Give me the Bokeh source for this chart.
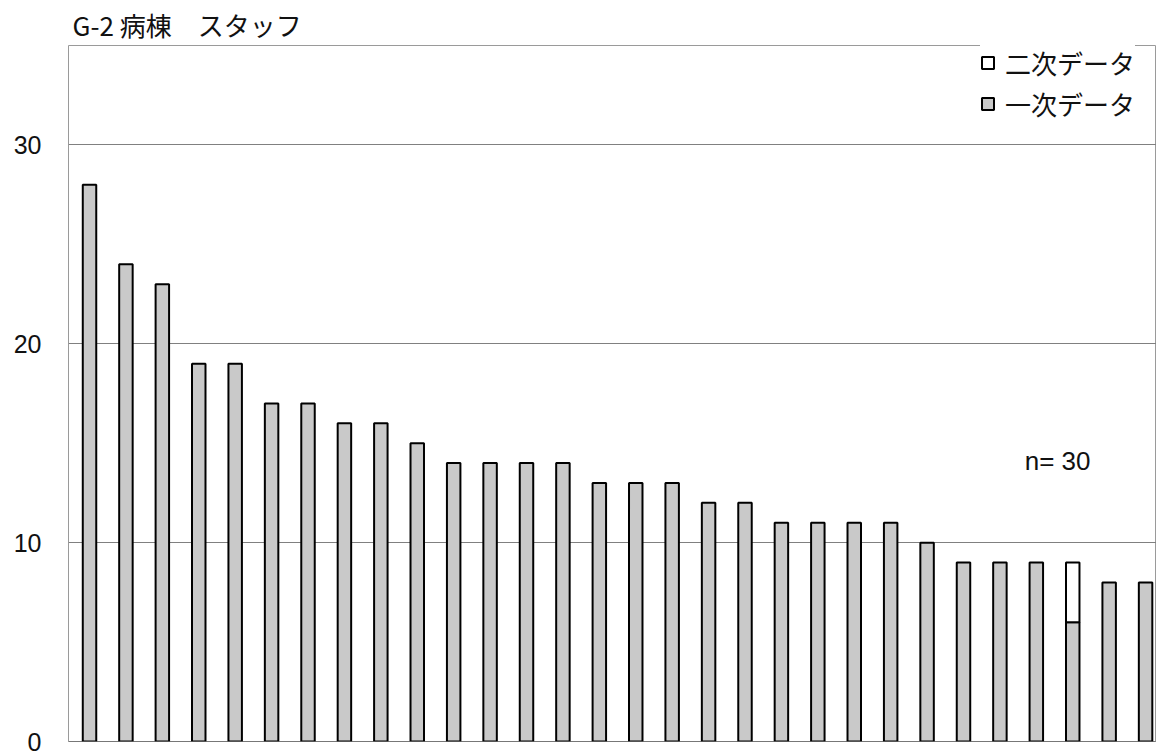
from bokeh.plotting import figure
from bokeh.models import ColumnDataSource, Legend, LegendItem, Label, Span, FixedTicker, Range1d
from bokeh.embed import file_html
from bokeh.resources import INLINE

title_text = "G-2 病棟　スタッフ"
series_names = ["一次データ", "二次データ"]
n_label = "n= 30"
y_ticks = [0, 10, 20, 30]
staff_ids = list(range(1, 31))
primary = [28, 24, 23, 19, 19, 17, 17, 16, 16, 15, 14, 14, 14, 14, 13, 13, 13,
           12, 12, 11, 11, 11, 11, 10, 9, 9, 9, 6, 8, 8]
secondary = [0, 0, 0, 0, 0, 0, 0, 0, 0, 0, 0, 0, 0, 0, 0, 0, 0,
             0, 0, 0, 0, 0, 0, 0, 0, 0, 0, 3, 0, 0]

xs = [i for i in range(len(staff_ids))]
src1 = ColumnDataSource(dict(x=xs, top=primary))
sec_idx = [i for i, s in enumerate(secondary) if s > 0]
src2 = ColumnDataSource(dict(x=[xs[i] for i in sec_idx],
                             bottom=[primary[i] for i in sec_idx],
                             top=[primary[i] + secondary[i] for i in sec_idx]))

FONT = "Noto Sans CJK JP"

p = figure(width=1156, height=756, output_backend="svg", toolbar_location=None,
           x_range=Range1d(-0.577, 29.30), y_range=Range1d(0, 35),
           x_axis_location=None, min_border_left=68, min_border_right=0,
           min_border_top=45, min_border_bottom=15)
p.title.text = title_text
p.title.text_font = FONT
p.title.text_font_size = "26px"
p.title.text_font_style = "normal"
p.title.text_color = "#111111"
p.title.align = "left"
p.title.offset = 4
p.title.standoff = 6

p.outline_line_color = "#9a9a9a"
p.outline_line_width = 1
p.xgrid.visible = False
p.ygrid.ticker = FixedTicker(ticks=[10, 20, 30])
p.ygrid.grid_line_color = "#808080"
p.ygrid.grid_line_width = 1

ya = p.yaxis[0]
ya.ticker = FixedTicker(ticks=y_ticks)
ya.axis_line_color = "#9a9a9a"
ya.axis_line_dash = "1 1"
ya.major_tick_line_color = None
ya.minor_tick_line_color = None
ya.major_label_standoff = 21
ya.major_label_text_font = "Liberation Sans"
ya.major_label_text_font_size = "25px"
ya.major_label_text_color = "#111111"

r1 = p.vbar(x="x", top="top", width=0.37, source=src1,
            fill_color="#c9c9c9", line_color="#000000", line_width=2)
r2 = p.vbar(x="x", bottom="bottom", top="top", width=0.37, source=src2,
            fill_color="#ffffff", line_color="#000000", line_width=2)

p.add_layout(Span(location=0, dimension="width", line_color="#555555", line_width=1))

legend = Legend(items=[LegendItem(label=series_names[1], renderers=[r2]),
                       LegendItem(label=series_names[0], renderers=[r1])],
                location=(912, 619))
legend.label_text_font = FONT
legend.label_text_font_size = "26px"
legend.label_text_color = "#111111"
legend.glyph_width = 15
legend.glyph_height = 15
legend.label_standoff = 10
legend.label_height = 30
legend.spacing = 4
legend.padding = 6
legend.margin = 0
legend.border_line_color = None
legend.background_fill_color = "white"
legend.background_fill_alpha = 1
p.add_layout(legend, "center")

p.add_layout(Label(x=25.68, y=14.13, text=n_label, text_font="Liberation Sans",
                   text_font_size="26px", text_baseline="middle", text_color="#111111"))

open("out.html", "w").write(file_html(p, INLINE))
